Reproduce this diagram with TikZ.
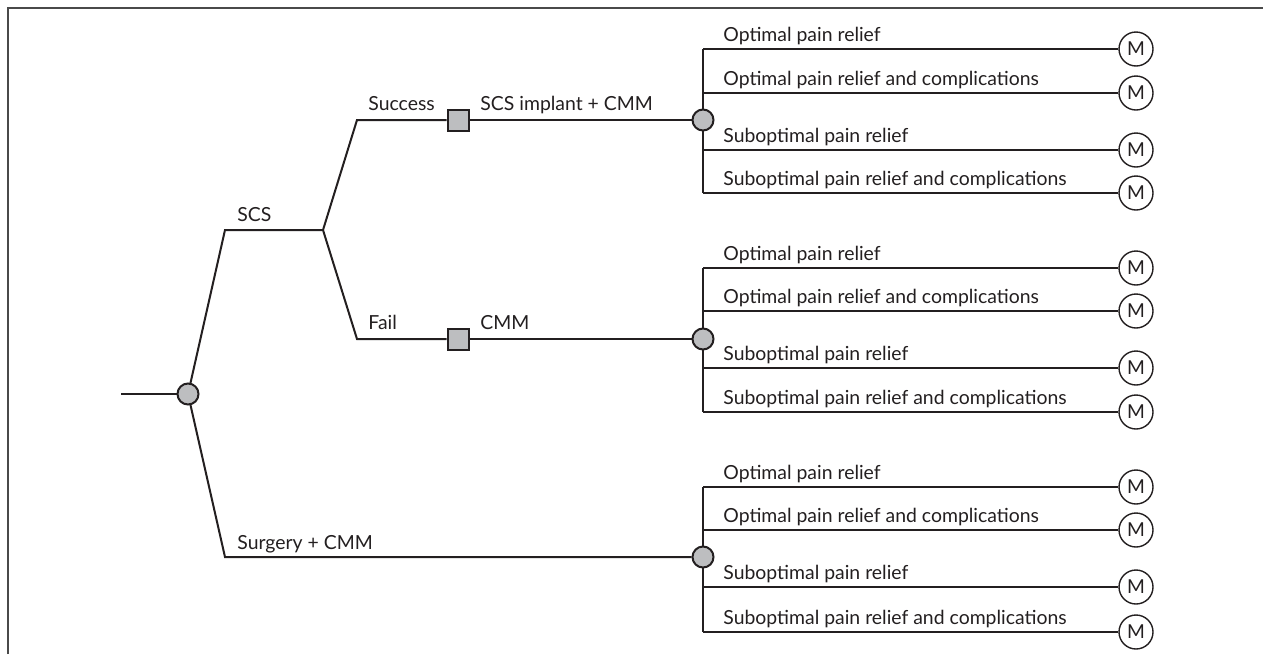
\documentclass[tikz,border=0pt]{standalone}
\usepackage{fontspec}
\setmainfont{Lato}
\pgfdeclarelayer{background}
\pgfsetlayers{background,main}
\definecolor{linec}{HTML}{231F20}
\definecolor{nodegray}{HTML}{BDBEC0}
\definecolor{framec}{HTML}{4A4A4A}
\begin{document}
\begin{tikzpicture}[x=0.5pt,y=-0.5pt,
  ln/.style={line width=1pt, draw=linec},
  chance/.style={circle, draw=linec, line width=1pt, fill=nodegray, minimum size=10.5pt, inner sep=0pt},
  dec/.style={rectangle, draw=linec, line width=1pt, fill=nodegray, minimum size=10.5pt, inner sep=0pt},
  term/.style={circle, draw=linec, line width=0.7pt, fill=white, minimum size=17pt, inner sep=0pt, text=linec, font=\fontsize{9.6}{11}\selectfont},
  lbl/.style={anchor=base west, inner sep=0pt, text=linec, font=\fontsize{9.7}{11}\selectfont}]
\useasboundingbox (0,0) rectangle (1263,654);
% frame
\draw[framec, line width=1.1pt] (8,654) -- (8,8) -- (1263,8);

% decision tree nodes
\coordinate (start) at (121,394);
\node[chance] (c0) at (188,394) {};
\coordinate (scsA) at (225,230);
\coordinate (scsB) at (323,230);
\coordinate (sucA) at (357,120);
\coordinate (failA) at (357,339);
\coordinate (surA) at (225,557);
\node[dec] (s1) at (458,120) {};
\node[dec] (s2) at (458,339) {};
\node[chance] (c1) at (703,120) {};
\node[chance] (c2) at (703,339) {};
\node[chance] (c3) at (703,557) {};

% labels on branches
\node[lbl] (lscs) at (237,221) {SCS};
\node[lbl] (lsuc) at (368,110) {Success};
\node[lbl] (limp) at (480,110) {SCS implant + CMM};
\node[lbl] (lfail) at (368,329) {Fail};
\node[lbl] (lcmm) at (480,329) {CMM};
\node[lbl] (lsur) at (237,549) {Surgery + CMM};

% outcome groups
\foreach \g/\ya/\yb/\yc/\yd in {1/49/93/150/193, 2/268/311/368/412, 3/487/530/587/632}{
  \coordinate (v\g a) at (703,\ya);
  \coordinate (v\g b) at (703,\yb);
  \coordinate (v\g c) at (703,\yc);
  \coordinate (v\g d) at (703,\yd);
  \node[term] (m\g a) at (1136,\ya) {M};
  \node[term] (m\g b) at (1136,\yb) {M};
  \node[term] (m\g c) at (1136,\yc) {M};
  \node[term] (m\g d) at (1136,\yd) {M};
  \node[lbl] (o\g a) at (723,\ya-8) {Optimal pain relief};
  \node[lbl] (o\g b) at (723,\yb-8) {Optimal pain relief and complications};
  \node[lbl] (o\g c) at (723,\yc-8) {Suboptimal pain relief};
  \node[lbl] (o\g d) at (723,\yd-8) {Suboptimal pain relief and complications};
  \begin{pgfonlayer}{background}
    \draw[ln] (v\g a) -- (v\g d);
    \draw[ln] (v\g a) -- (m\g a);
    \draw[ln] (v\g b) -- (m\g b);
    \draw[ln] (v\g c) -- (m\g c);
    \draw[ln] (v\g d) -- (m\g d);
  \end{pgfonlayer}
}

\begin{pgfonlayer}{background}
  \draw[ln] (start) -- (c0);
  \draw[ln] (c0.center) -- (scsA) -- (scsB);
  \draw[ln] (scsB) -- (sucA) -- (s1);
  \draw[ln] (scsB) -- (failA) -- (s2);
  \draw[ln] (s1) -- (c1);
  \draw[ln] (s2) -- (c2);
  \draw[ln] (c0.center) -- (surA) -- (c3);
\end{pgfonlayer}
\end{tikzpicture}
\end{document}
